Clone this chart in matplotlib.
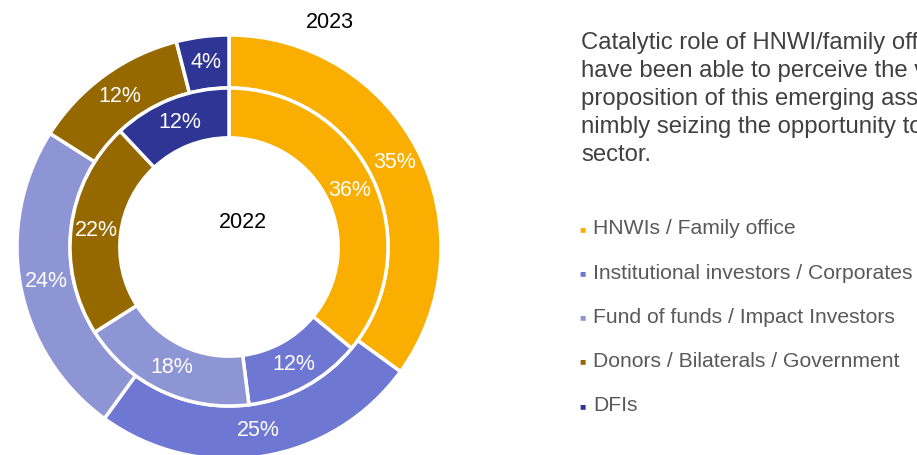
import matplotlib.pyplot as plt

plt.rcParams['font.family'] = ['Liberation Sans', 'DejaVu Sans']

categories = ["HNWIs / Family office", "Institutional investors / Corporates",
              "Fund of funds / Impact Investors", "Donors / Bilaterals / Government",
              "DFIs"]
share_2023 = [35, 25, 24, 12, 4]
share_2022 = [36, 12, 18, 22, 12]
colors = ["#F9AE00", "#6E77D2", "#8D95D5", "#966800", "#2E3594"]

paragraph = ["Catalytic role of HNWI/family offices: they",
             "have been able to perceive the value",
             "proposition of this emerging asset class,",
             "nimbly seizing the opportunity to enter the",
             "sector."]

W, H = 917, 455
fig = plt.figure(figsize=(W / 100, H / 100), dpi=100)

# pie axes: centre (229, 247) px, radius 212 px
cx, cy, R = 229, 247, 212
ax = fig.add_axes([(cx - R) / W, (H - cy - R) / H, 2 * R / W, 2 * R / H])
ax.axis("off")

pct = lambda p: f"{p:.0f}%"
wedge_style = dict(edgecolor="white", linewidth=2.5)
text_style = dict(color="white", fontsize=15.5)

ax.pie(share_2023, colors=colors, radius=1.0, startangle=90, counterclock=False,
       wedgeprops=dict(width=0.25, **wedge_style), autopct=pct, pctdistance=0.875,
       textprops=text_style)
ax.pie(share_2022, colors=colors, radius=0.75, startangle=90, counterclock=False,
       wedgeprops=dict(width=0.235, **wedge_style), autopct=pct, pctdistance=0.84,
       textprops=text_style)
ax.set_xlim(-1, 1)
ax.set_ylim(-1, 1)

fig.text(330 / W, 1 - 23 / H, "2023", ha="center", va="center", fontsize=15.5, color="black")
fig.text(243 / W, 1 - 222 / H, "2022", ha="center", va="center", fontsize=15.5, color="black")

# paragraph at the right, runs off the edge as in the source
for i, line in enumerate(paragraph):
    fig.text(581 / W, 1 - (43 + 28 * i) / H, line, ha="left", va="center",
             fontsize=17.2, color="#404040")

# legend
for i, (name, c) in enumerate(zip(categories, colors)):
    y = 1 - (229 + 44.2 * i) / H
    fig.text(582 / W, y, "\u25A0", ha="center", va="center", fontsize=7.5, color=c)
    fig.text(593 / W, y, name, ha="left", va="center", fontsize=15.2, color="#595959")

fig.savefig("out.png", dpi=100)
